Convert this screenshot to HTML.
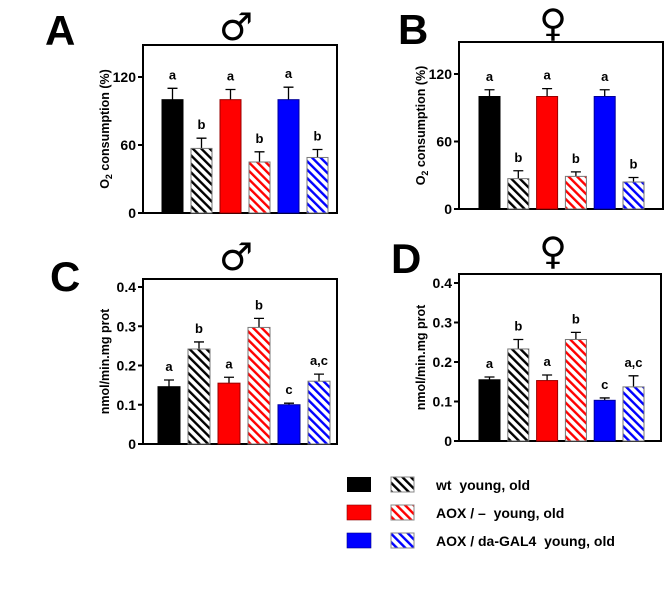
<!DOCTYPE html>
<html><head><meta charset="utf-8"><style>
body{margin:0;background:#fff;width:672px;height:585px;overflow:hidden}
svg{font-family:"Liberation Sans","DejaVu Sans",sans-serif;font-weight:bold}
.pre{white-space:pre}
</style></head><body>
<svg id="fig" width="672" height="585">
<defs>
<pattern id="hk" patternUnits="userSpaceOnUse" width="6" height="6" patternTransform="rotate(-45)"><rect width="6" height="6" fill="#fff"/><rect x="0" width="2.4" height="6" fill="#000"/></pattern>
<pattern id="hr" patternUnits="userSpaceOnUse" width="6" height="6" patternTransform="rotate(-45)"><rect width="6" height="6" fill="#fff"/><rect x="0" width="2.4" height="6" fill="#f00"/></pattern>
<pattern id="hb" patternUnits="userSpaceOnUse" width="6" height="6" patternTransform="rotate(-45)"><rect width="6" height="6" fill="#fff"/><rect x="0" width="2.4" height="6" fill="#00f"/></pattern>
</defs>
<g>
<rect x="347" y="477" width="24" height="15" fill="#000"/>
<rect x="391" y="477" width="23" height="15" fill="url(#hk)" stroke="#888"/>
<text class="pre" x="436" y="490" font-size="14">wt  young, old</text>
<rect x="347" y="505" width="24" height="15" fill="#f00" stroke="#800" stroke-width="0.6"/>
<rect x="391" y="505" width="23" height="15" fill="url(#hr)" stroke="#888"/>
<text class="pre" x="436" y="518" font-size="14">AOX / –  young, old</text>
<rect x="347" y="533" width="24" height="15" fill="#00f" stroke="#008" stroke-width="0.6"/>
<rect x="391" y="533" width="23" height="15" fill="url(#hb)" stroke="#888"/>
<text class="pre" x="436" y="546" font-size="14">AOX / da-GAL4  young, old</text>
</g>
</svg>
<script>
const groups = ["wt young","wt old","AOX young","AOX old","AOX/da young","AOX/da old"];
const aValues = [100,57,100,45,100,49];
const aErr = [10,9,9,9,11,7];
const aLetters = ["a","b","a","b","a","b"];
const bValues = [100,27,100,29,100,24];
const bErr = [6,7,7,4,6,4];
const bLetters = ["a","b","a","b","a","b"];
const cValues = [0.146,0.242,0.155,0.297,0.100,0.160];
const cErr = [0.017,0.018,0.015,0.023,0.004,0.018];
const cLetters = ["a","b","a","b","c","a,c"];
const dValues = [0.155,0.233,0.153,0.257,0.103,0.137];
const dErr = [0.007,0.024,0.014,0.018,0.006,0.028];
const dLetters = ["a","b","a","b","c","a,c"];
const o2Ticks = [0,60,120];
const actTicks = [0,0.1,0.2,0.3,0.4];
const actTickLabels = ["0","0.1","0.2","0.3","0.4"];
const fills = ["#000","url(#hk)","#f00","url(#hr)","#00f","url(#hb)"];
const strokes = ["#000","#777","#900","#777","#009","#777"];

const NS="http://www.w3.org/2000/svg";
const svg=document.getElementById('fig');
function el(t,a,p){const e=document.createElementNS(NS,t);for(const k in a)e.setAttribute(k,a[k]);(p||svg).appendChild(e);return e;}

function panel(cfg){
  const g=el('g',{});
  
  
  const y=v=>cfg.y0-(v-cfg.vmin)/(cfg.vmax-cfg.vmin)*(cfg.y0-cfg.yTop);
  const box=el('rect',{x:cfg.left,y:cfg.top,width:cfg.right-cfg.left,height:cfg.y0-cfg.top,fill:'none',stroke:'#000','stroke-width':2},g);
  
  
  cfg.ticks.forEach((t,i)=>{
    el('line',{x1:cfg.left-5,x2:cfg.left,y1:y(t),y2:y(t),stroke:'#000','stroke-width':2},g);
    const tx=el('text',{x:cfg.left-7,y:y(t)+5,'font-size':14,'text-anchor':'end'},g);
    tx.textContent=cfg.tickLabels[i];
    
    
  });
  cfg.values.forEach((v,i)=>{
    const x=cfg.bx0+i*cfg.pitch;
    const top=y(v), et=y(v+cfg.err[i]);
    const cx=x+cfg.bw/2;
    const eb=el('path',{d:`M${cx} ${top}V${et}M${cx-5} ${et}H${cx+5}`,stroke:'#000','stroke-width':1.3,fill:'none'},g);
    
    
    const r=el('rect',{x:x,y:top,width:cfg.bw,height:cfg.y0-top,fill:fills[i],stroke:strokes[i],'stroke-width':1},g);
    
    
    const lt=el('text',{x:cx,y:et-9,'font-size':13,'text-anchor':'middle'},g);
    lt.textContent=cfg.letters[i];
    
    
  });
  const mid=(cfg.top+cfg.y0)/2;
  const yt=el('text',{x:0,y:0,'font-size':12.5,'text-anchor':'middle',transform:`translate(${cfg.left-34},${mid}) rotate(-90)`},g);
  yt.innerHTML=cfg.ytitle;
  
  
  const pl=el('text',{x:cfg.lx,y:cfg.ly,'font-size':42},g);
  pl.textContent=cfg.letter;
  
  
  const sx=el('text',{x:cfg.sx,y:cfg.sy,'font-size':38,'font-weight':'bold','text-anchor':'middle','font-family':'DejaVu Sans, sans-serif'},g);
  sx.textContent=cfg.sym;
  
  
}
const o2Title='O<tspan font-size="9" dy="3">2</tspan><tspan dy="-3"> consumption (%)</tspan>';
panel({name:'panel-a',left:143,right:337,top:45,y0:213,yTop:77,vmin:0,vmax:120,ticks:o2Ticks,tickLabels:o2Ticks.map(String),values:aValues,err:aErr,letters:aLetters,bx0:162,pitch:29,bw:21,ytitle:o2Title,letter:'A',lx:45,ly:45,sym:'♂',sx:236,sy:40});
panel({name:'panel-b',left:459,right:663,top:42,y0:209,yTop:74,vmin:0,vmax:120,ticks:o2Ticks,tickLabels:o2Ticks.map(String),values:bValues,err:bErr,letters:bLetters,bx0:479,pitch:28.8,bw:21,ytitle:o2Title,letter:'B',lx:398,ly:44,sym:'♀',sx:553,sy:36});
panel({name:'panel-c',left:143,right:337,top:279,y0:444,yTop:287,vmin:0,vmax:0.4,ticks:actTicks,tickLabels:actTickLabels,values:cValues,err:cErr,letters:cLetters,bx0:158,pitch:30,bw:22,ytitle:'nmol/min.mg prot',letter:'C',lx:50,ly:291,sym:'♂',sx:236,sy:270});
panel({name:'panel-d',left:459,right:661,top:274,y0:441,yTop:283,vmin:0,vmax:0.4,ticks:actTicks,tickLabels:actTickLabels,values:dValues,err:dErr,letters:dLetters,bx0:479,pitch:28.8,bw:21,ytitle:'nmol/min.mg prot',letter:'D',lx:391,ly:273,sym:'♀',sx:553,sy:264});
</script>
</body></html>
